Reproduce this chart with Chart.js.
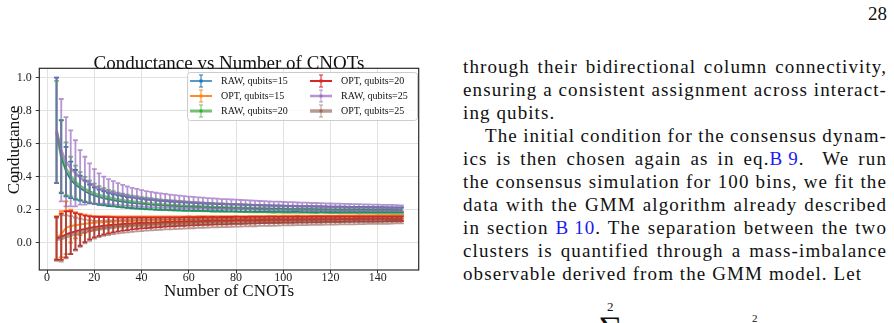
<!DOCTYPE html>
<html>
<head>
<meta charset="utf-8">
<script src="https://cdn.jsdelivr.net/npm/chart.js@4.4.0/dist/chart.umd.min.js"></script>
<style>
body{margin:0;width:894px;height:323px;background:#fff;position:relative;overflow:hidden;font-family:'Liberation Serif',serif;color:#111}
#wrap{position:absolute;left:0;top:0;width:440px;height:310px}
.ln{position:absolute;left:463px;font-size:19px;line-height:23px;letter-spacing:1.1px;white-space:nowrap}
.ref{color:#1a1aee}
.pg{position:absolute;right:7px;top:3px;font-size:19px}
.eq{position:absolute;font-size:13px}
</style>
</head>
<body>
<div id="wrap"><canvas id="myChart" width="440" height="310"></canvas></div>

<div class="pg">28</div>
<div class="ln" data-w="424" style="top:55px"><span>through their bidirectional column connectivity,</span></div>
<div class="ln" data-w="424" style="top:78px"><span>ensuring a consistent assignment across interact-</span></div>
<div class="ln" style="top:101px"><span>ing qubits.</span></div>
<div class="ln" data-w="402" style="top:124px;left:485px"><span>The initial condition for the consensus dynam-</span></div>
<div class="ln" data-w="424" style="top:147px"><span>ics is then chosen again as in eq.<span class="ref">B&#8201;9</span>.&nbsp; We run</span></div>
<div class="ln" data-w="424" style="top:170px"><span>the consensus simulation for 100 bins, we fit the</span></div>
<div class="ln" data-w="424" style="top:193px"><span>data with the GMM algorithm already described</span></div>
<div class="ln" data-w="424" style="top:216px"><span>in section <span class="ref">B&#8201;10</span>. The separation between the two</span></div>
<div class="ln" data-w="424" style="top:239px"><span>clusters is quantified through a mass-imbalance</span></div>
<div class="ln" style="top:262px"><span>observable derived from the GMM model. Let</span></div>
<div class="eq" style="left:607px;top:299px">2</div>
<div class="eq" style="left:598px;top:312px;font-size:34px;line-height:34px">&#8721;</div>
<div class="eq" style="left:752px;top:312px;font-size:11px">2</div>

<script>
const cnots = [4, 6, 8, 10, 12, 14, 16, 18, 20, 22,
    24, 26, 28, 30, 32, 34, 36, 38, 40, 42,
    44, 46, 48, 50, 52, 54, 56, 58, 60, 62,
    64, 66, 68, 70, 72, 74, 76, 78, 80, 82,
    84, 86, 88, 90, 92, 94, 96, 98, 100, 102,
    104, 106, 108, 110, 112, 114, 116, 118, 120, 122,
    124, 126, 128, 130, 132, 134, 136, 138, 140, 142,
    144, 146, 148, 150];

const raw15 = [0.68, 0.52, 0.43, 0.38, 0.35, 0.33, 0.31, 0.295, 0.285, 0.275,
    0.268, 0.261, 0.256, 0.251, 0.247, 0.243, 0.240, 0.237, 0.235, 0.232,
    0.230, 0.228, 0.226, 0.225, 0.223, 0.222, 0.220, 0.219, 0.218, 0.217,
    0.216, 0.215, 0.214, 0.213, 0.212, 0.212, 0.211, 0.210, 0.210, 0.209,
    0.208, 0.208, 0.207, 0.207, 0.206, 0.206, 0.205, 0.205, 0.205, 0.204,
    0.204, 0.204, 0.203, 0.203, 0.203, 0.202, 0.202, 0.202, 0.201, 0.201,
    0.201, 0.201, 0.200, 0.200, 0.200, 0.200, 0.200, 0.199, 0.199, 0.199,
    0.199, 0.199, 0.198, 0.198];
const raw15Err = [0.32, 0.22, 0.15, 0.11, 0.09, 0.075, 0.065, 0.057, 0.05, 0.046,
    0.043, 0.040, 0.037, 0.035, 0.034, 0.033, 0.032, 0.031, 0.030, 0.029,
    0.029, 0.028, 0.027, 0.027, 0.026, 0.026, 0.025, 0.025, 0.024, 0.024,
    0.024, 0.023, 0.023, 0.023, 0.022, 0.022, 0.022, 0.021, 0.021, 0.021,
    0.021, 0.020, 0.020, 0.020, 0.020, 0.019, 0.019, 0.019, 0.019, 0.019,
    0.018, 0.018, 0.018, 0.018, 0.018, 0.018, 0.017, 0.017, 0.017, 0.017,
    0.017, 0.017, 0.016, 0.016, 0.016, 0.016, 0.016, 0.016, 0.016, 0.016,
    0.015, 0.015, 0.015, 0.015];

const opt15 = [0.03, 0.05, 0.09, 0.10, 0.105, 0.11, 0.114, 0.117, 0.12, 0.122,
    0.124, 0.126, 0.127, 0.128, 0.129, 0.130, 0.131, 0.132, 0.133, 0.134,
    0.135, 0.135, 0.136, 0.137, 0.137, 0.138, 0.138, 0.139, 0.140, 0.140,
    0.141, 0.141, 0.142, 0.142, 0.143, 0.143, 0.144, 0.144, 0.145, 0.145,
    0.145, 0.146, 0.146, 0.146, 0.147, 0.147, 0.147, 0.148, 0.148, 0.148,
    0.149, 0.149, 0.149, 0.150, 0.150, 0.150, 0.150, 0.151, 0.151, 0.151,
    0.152, 0.152, 0.152, 0.152, 0.153, 0.153, 0.153, 0.153, 0.154, 0.154,
    0.154, 0.154, 0.155, 0.155];
const opt15Err = [0.13, 0.14, 0.16, 0.10, 0.08, 0.065, 0.055, 0.048, 0.042, 0.039,
    0.036, 0.034, 0.032, 0.030, 0.029, 0.028, 0.027, 0.026, 0.025, 0.024,
    0.024, 0.023, 0.022, 0.022, 0.021, 0.021, 0.021, 0.020, 0.020, 0.019,
    0.019, 0.019, 0.018, 0.018, 0.018, 0.017, 0.017, 0.017, 0.017, 0.016,
    0.016, 0.016, 0.016, 0.016, 0.015, 0.015, 0.015, 0.015, 0.015, 0.015,
    0.014, 0.014, 0.014, 0.014, 0.014, 0.014, 0.014, 0.013, 0.013, 0.013,
    0.013, 0.013, 0.013, 0.013, 0.013, 0.012, 0.012, 0.012, 0.012, 0.012,
    0.012, 0.012, 0.012, 0.012];

const raw20 = [0.67, 0.524, 0.447, 0.40, 0.366, 0.342, 0.324, 0.309, 0.297, 0.287,
    0.279, 0.272, 0.266, 0.260, 0.255, 0.251, 0.247, 0.244, 0.240, 0.237,
    0.235, 0.232, 0.230, 0.228, 0.226, 0.225, 0.223, 0.222, 0.220, 0.219,
    0.218, 0.217, 0.215, 0.214, 0.213, 0.212, 0.211, 0.210, 0.209, 0.209,
    0.208, 0.207, 0.206, 0.205, 0.205, 0.204, 0.203, 0.203, 0.202, 0.202,
    0.201, 0.201, 0.200, 0.200, 0.199, 0.199, 0.199, 0.198, 0.198, 0.197,
    0.197, 0.197, 0.196, 0.196, 0.196, 0.195, 0.195, 0.195, 0.194, 0.194,
    0.194, 0.193, 0.193, 0.193];
const raw20Err = [0.31, 0.22, 0.16, 0.12, 0.10, 0.085, 0.074, 0.066, 0.060, 0.055,
    0.051, 0.048, 0.045, 0.043, 0.041, 0.040, 0.038, 0.037, 0.036, 0.035,
    0.034, 0.033, 0.032, 0.031, 0.031, 0.030, 0.029, 0.029, 0.028, 0.028,
    0.027, 0.027, 0.026, 0.026, 0.025, 0.025, 0.025, 0.024, 0.024, 0.024,
    0.023, 0.023, 0.023, 0.022, 0.022, 0.022, 0.022, 0.021, 0.021, 0.021,
    0.021, 0.020, 0.020, 0.020, 0.020, 0.020, 0.019, 0.019, 0.019, 0.019,
    0.019, 0.018, 0.018, 0.018, 0.018, 0.018, 0.018, 0.018, 0.017, 0.017,
    0.017, 0.017, 0.017, 0.017];

const opt20 = [0.025, 0.035, 0.05, 0.06, 0.068, 0.076, 0.083, 0.089, 0.094, 0.098,
    0.102, 0.105, 0.108, 0.110, 0.112, 0.114, 0.116, 0.118, 0.119, 0.120,
    0.121, 0.122, 0.123, 0.125, 0.125, 0.126, 0.127, 0.128, 0.129, 0.129,
    0.130, 0.131, 0.131, 0.132, 0.132, 0.133, 0.133, 0.134, 0.135, 0.135,
    0.135, 0.136, 0.136, 0.137, 0.137, 0.138, 0.138, 0.138, 0.139, 0.139,
    0.139, 0.140, 0.140, 0.140, 0.141, 0.141, 0.141, 0.142, 0.142, 0.142,
    0.142, 0.143, 0.143, 0.143, 0.143, 0.144, 0.144, 0.144, 0.144, 0.144,
    0.145, 0.145, 0.145, 0.145];
const opt20Err = [0.13, 0.14, 0.14, 0.13, 0.11, 0.095, 0.08, 0.07, 0.062, 0.057,
    0.053, 0.049, 0.046, 0.042, 0.040, 0.038, 0.036, 0.034, 0.033, 0.032,
    0.031, 0.030, 0.029, 0.028, 0.027, 0.027, 0.026, 0.026, 0.025, 0.025,
    0.024, 0.024, 0.023, 0.023, 0.022, 0.022, 0.022, 0.021, 0.021, 0.021,
    0.020, 0.020, 0.020, 0.019, 0.019, 0.019, 0.019, 0.018, 0.018, 0.018,
    0.018, 0.018, 0.017, 0.017, 0.017, 0.017, 0.017, 0.016, 0.016, 0.016,
    0.016, 0.016, 0.016, 0.015, 0.015, 0.015, 0.015, 0.015, 0.015, 0.015,
    0.014, 0.014, 0.014, 0.014];

const raw25 = [0.68, 0.56, 0.49, 0.45, 0.42, 0.395, 0.375, 0.36, 0.34, 0.328,
    0.318, 0.309, 0.301, 0.294, 0.288, 0.282, 0.277, 0.272, 0.268, 0.264,
    0.261, 0.258, 0.255, 0.253, 0.251, 0.249, 0.247, 0.245, 0.243, 0.242,
    0.240, 0.239, 0.237, 0.236, 0.235, 0.234, 0.233, 0.232, 0.231, 0.230,
    0.229, 0.228, 0.227, 0.226, 0.225, 0.224, 0.223, 0.223, 0.222, 0.221,
    0.221, 0.220, 0.219, 0.219, 0.218, 0.218, 0.217, 0.216, 0.216, 0.215,
    0.215, 0.214, 0.214, 0.213, 0.213, 0.212, 0.212, 0.211, 0.211, 0.210,
    0.210, 0.209, 0.209, 0.208];
const raw25Err = [0.32, 0.31, 0.27, 0.23, 0.20, 0.165, 0.145, 0.12, 0.105, 0.092,
    0.082, 0.076, 0.071, 0.066, 0.062, 0.058, 0.055, 0.053, 0.050, 0.048,
    0.046, 0.044, 0.043, 0.042, 0.040, 0.039, 0.038, 0.037, 0.036, 0.035,
    0.034, 0.033, 0.032, 0.032, 0.031, 0.030, 0.030, 0.029, 0.029, 0.028,
    0.028, 0.027, 0.027, 0.026, 0.026, 0.025, 0.025, 0.025, 0.024, 0.024,
    0.024, 0.023, 0.023, 0.023, 0.022, 0.022, 0.022, 0.022, 0.021, 0.021,
    0.021, 0.021, 0.020, 0.020, 0.020, 0.020, 0.020, 0.019, 0.019, 0.019,
    0.019, 0.019, 0.018, 0.018];

const opt25 = [0.02, 0.025, 0.035, 0.045, 0.052, 0.06, 0.067, 0.073, 0.078, 0.083,
    0.087, 0.09, 0.093, 0.096, 0.098, 0.10, 0.102, 0.104, 0.105, 0.106,
    0.107, 0.108, 0.110, 0.111, 0.111, 0.112, 0.113, 0.114, 0.115, 0.115,
    0.116, 0.117, 0.117, 0.118, 0.118, 0.119, 0.119, 0.120, 0.121, 0.121,
    0.121, 0.122, 0.122, 0.123, 0.123, 0.124, 0.124, 0.124, 0.125, 0.125,
    0.125, 0.126, 0.126, 0.126, 0.127, 0.127, 0.127, 0.128, 0.128, 0.128,
    0.128, 0.129, 0.129, 0.129, 0.130, 0.130, 0.130, 0.130, 0.131, 0.131,
    0.131, 0.131, 0.132, 0.132];
const opt25Err = [0.13, 0.14, 0.13, 0.115, 0.10, 0.085, 0.072, 0.062, 0.054, 0.049,
    0.046, 0.044, 0.042, 0.040, 0.039, 0.038, 0.037, 0.036, 0.035, 0.034,
    0.033, 0.033, 0.032, 0.031, 0.031, 0.030, 0.030, 0.029, 0.028, 0.028,
    0.027, 0.027, 0.026, 0.026, 0.025, 0.025, 0.025, 0.024, 0.024, 0.024,
    0.023, 0.023, 0.023, 0.022, 0.022, 0.022, 0.022, 0.021, 0.021, 0.021,
    0.020, 0.020, 0.020, 0.020, 0.020, 0.019, 0.019, 0.019, 0.019, 0.019,
    0.018, 0.018, 0.018, 0.018, 0.018, 0.018, 0.017, 0.017, 0.017, 0.017,
    0.017, 0.016, 0.016, 0.016];

// justify the text column lines by hand (nowrap + word-spacing)
document.querySelectorAll('.ln[data-w]').forEach(function (el) {
    const inner = el.firstElementChild;
    const natural = inner.getBoundingClientRect().width;
    const gaps = (inner.textContent.match(/[ \u00a0]/g) || []).length;
    if (gaps > 0) {
        el.style.wordSpacing = ((+el.dataset.w - natural) / gaps) + 'px';
    }
});

const serif = "'Liberation Serif', 'Times New Roman', serif";
Chart.defaults.font.family = serif;

function series(label, ys, errs, color, width) {
    return {
        label: label,
        data: cnots.map((c, i) => ({x: c, y: ys[i]})),
        err: errs,
        borderColor: color,
        borderWidth: width,
        pointRadius: 0,
        showLine: true,
        tension: 0
    };
}

const datasets = [
    series('RAW, qubits=15', raw15, raw15Err, 'rgba(31,119,180,1)', 1.5),
    series('OPT, qubits=15', opt15, opt15Err, 'rgba(255,127,14,0.9)', 2),
    series('RAW, qubits=20', raw20, raw20Err, 'rgba(44,160,44,0.65)', 3),
    series('OPT, qubits=20', opt20, opt20Err, 'rgba(214,39,40,1)', 2),
    series('RAW, qubits=25', raw25, raw25Err, 'rgba(148,103,189,0.7)', 2.5),
    series('OPT, qubits=25', opt25, opt25Err, 'rgba(140,86,75,0.6)', 3.5)
];
// matplotlib draws later series on top
datasets.forEach((d, i) => { d.order = -i; });

// error bars, drawn just before each line
const errorBars = {
    id: 'errorBars',
    beforeDatasetDraw(chart, args) {
        const ds = chart.data.datasets[args.index];
        const {ctx, chartArea} = chart;
        const xs = chart.scales.x, ys = chart.scales.y;
        ctx.save();
        ctx.beginPath();
        ctx.rect(chartArea.left, chartArea.top, chartArea.width, chartArea.height);
        ctx.clip();
        ctx.strokeStyle = ds.borderColor;
        ctx.lineWidth = 1.8;
        ctx.beginPath();
        ds.data.forEach((p, i) => {
            const px = xs.getPixelForValue(p.x);
            const top = ys.getPixelForValue(p.y + ds.err[i]);
            const bot = ys.getPixelForValue(p.y - ds.err[i]);
            ctx.moveTo(px, top); ctx.lineTo(px, bot);
            ctx.moveTo(px - 2.4, top); ctx.lineTo(px + 2.4, top);
            ctx.moveTo(px - 2.4, bot); ctx.lineTo(px + 2.4, bot);
        });
        ctx.stroke();
        ctx.restore();
    }
};

// frame, titles and a two-column legend like matplotlib's
const decorations = {
    id: 'decorations',
    afterDatasetsDraw(chart) {
        const {ctx, chartArea: a} = chart;
        ctx.save();
        ctx.strokeStyle = '#2b2b2b';
        ctx.lineWidth = 1.2;
        ctx.strokeRect(a.left, a.top, a.right - a.left, a.bottom - a.top);
        ctx.restore();
    },
    afterDraw(chart) {
        const ctx = chart.ctx;
        ctx.save();
        ctx.fillStyle = '#111';
        ctx.textAlign = 'center';
        ctx.textBaseline = 'alphabetic';
        ctx.font = '19px ' + serif;
        ctx.fillText('Conductance vs Number of CNOTs', 229, 69);
        ctx.font = '17px ' + serif;
        ctx.fillText('Number of CNOTs', 229, 296);
        ctx.translate(19, 150);
        ctx.rotate(-Math.PI / 2);
        ctx.fillText('Conductance', 0, 0);
        ctx.restore();

        // legend box
        const bx = 187, by = 72, bw = 230, bh = 48;
        ctx.save();
        ctx.fillStyle = 'rgba(255,255,255,0.85)';
        ctx.strokeStyle = '#cccccc';
        ctx.lineWidth = 1;
        ctx.beginPath();
        ctx.roundRect(bx + 0.5, by + 0.5, bw, bh, 3);
        ctx.fill();
        ctx.stroke();
        const cols = [190, 310];
        const rows = [81, 96, 111];
        ctx.font = '10px ' + serif;
        ctx.textBaseline = 'middle';
        chart.data.datasets.forEach((ds, i) => {
            const cx = cols[Math.floor(i / 3)];
            const cy = rows[i % 3];
            ctx.strokeStyle = ds.borderColor;
            ctx.lineWidth = ds.borderWidth;
            ctx.beginPath();
            ctx.moveTo(cx, cy); ctx.lineTo(cx + 22, cy);
            ctx.stroke();
            ctx.lineWidth = 1;
            ctx.beginPath();
            const mx = cx + 11;
            ctx.moveTo(mx, cy - 6); ctx.lineTo(mx, cy + 6);
            ctx.moveTo(mx - 2, cy - 6); ctx.lineTo(mx + 2, cy - 6);
            ctx.moveTo(mx - 2, cy + 6); ctx.lineTo(mx + 2, cy + 6);
            ctx.stroke();
            ctx.fillStyle = ds.borderColor;
            ctx.fillRect(mx - 1.5, cy - 1.5, 3, 3);
            ctx.fillStyle = '#111';
            ctx.fillText(ds.label, cx + 31, cy + 0.5);
        });
        ctx.restore();
    }
};

const config = {
    type: 'scatter',
    data: {datasets: datasets},
    options: {
        responsive: false,
        animation: false,
        events: [],
        layout: {padding: {left: 0, right: 21.3, top: 68.3, bottom: 0}},
        plugins: {legend: {display: false}, tooltip: {enabled: false}, title: {display: false}},
        scales: {
            x: {
                type: 'linear',
                min: -3.3,
                max: 157.3,
                border: {display: false},
                grid: {color: '#e2e2e2', lineWidth: 1, tickLength: 3.5, tickColor: '#333', tickWidth: 1},
                ticks: {stepSize: 20, includeBounds: false, maxRotation: 0, padding: -3,
                    color: '#222', font: {family: serif, size: 12}},
                afterFit: function (scale) { scale.height = 40; }
            },
            y: {
                type: 'linear',
                min: -0.166,
                max: 1.056,
                border: {display: false},
                grid: {color: '#e2e2e2', lineWidth: 1, tickLength: 3.5, tickColor: '#333', tickWidth: 1},
                ticks: {stepSize: 0.2, includeBounds: false, padding: 4, color: '#222',
                    font: {family: serif, size: 12},
                    callback: function (v) { return (Math.abs(v) < 1e-9 ? 0 : v).toFixed(1); }},
                afterFit: function (scale) { scale.width = 39.3; }
            }
        }
    },
    plugins: [errorBars, decorations]
};

const myChart = new Chart(document.getElementById('myChart'), config);
</script>
</body>
</html>
